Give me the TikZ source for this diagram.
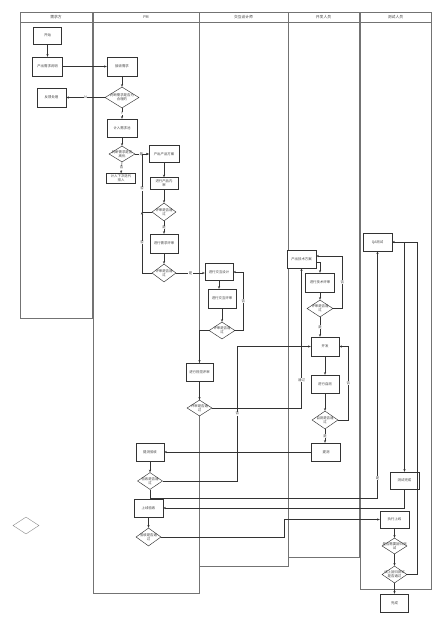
\documentclass[tikz,border=0pt]{standalone}
\usepackage{fontspec}
\setmainfont{Noto Sans CJK SC}
\usetikzlibrary{shapes.geometric,arrows.meta,calc}
\begin{document}
\begin{tikzpicture}[x=1pt,y=-1pt,
  txt/.style={font=\fontsize{3.4}{4}\selectfont, text=black!75},
  box/.style={draw=black!80, line width=0.45pt, fill=white, rectangle, inner sep=0pt,
    minimum width=29pt, minimum height=18pt, align=center, txt},
  dia/.style={draw=black!80, line width=0.45pt, fill=white, diamond, inner sep=0pt,
    minimum width=25pt, minimum height=17pt},
  dlab/.style={label={[txt,align=center]center:#1}},
  lane/.style={draw=black!55, line width=0.7pt},
  head/.style={font=\fontsize{3.8}{4.5}\selectfont, text=black!75},
  arr/.style={draw=black!80, line width=0.45pt, -{Stealth[length=2.6pt,width=2.1pt]}},
  lbl/.style={txt, fill=white, inner sep=0.4pt}]
\useasboundingbox (0,0) rectangle (440,620);
\fill[white] (0,0) rectangle (440,620);

% lanes
\draw[lane] (20,12) rectangle (92,318);   \draw[lane] (20,22) -- (92,22);
\draw[lane] (93,12) rectangle (199,593);  \draw[lane] (93,22) -- (199,22);
\draw[lane] (199,12) rectangle (288,566); \draw[lane] (199,22) -- (288,22);
\draw[lane] (288,12) rectangle (359,557); \draw[lane] (288,22) -- (359,22);
\draw[lane] (360,12) rectangle (431,589); \draw[lane] (360,22) -- (431,22);
\node[head] (h1) at (56,17) {需求方};
\node[head] (h2) at (146,17) {PM};
\node[head] (h3) at (243.5,17) {交互设计师};
\node[head] (h4) at (323.5,17) {开发人员};
\node[head] (h5) at (395.5,17) {测试人员};

% 需求方
\node[box,minimum width=28pt,minimum height=17pt] (start) at (47.5,35.5) {开始};
\node[box,minimum width=30pt,minimum height=19pt] (req) at (47.5,66.5) {产出需求说明};
\node[box,minimum width=29pt,minimum height=19pt] (fb) at (51.5,97.5) {反馈处理};
\node[dia,draw=black!45,line width=0.4pt,minimum width=26pt,minimum height=17pt] (lone) at (26,525.5) {};

% PM
\node[box,minimum width=30pt,minimum height=19pt] (recv) at (122,66.5) {接收需求};
\node[dia,minimum width=34pt,minimum height=21pt,dlab={判断需求是否为\\合理的}] (d1) at (122,97.5) {};
\node[box,minimum width=30pt,minimum height=18pt] (pool) at (122,128) {计入需求池};
\node[dia,minimum width=26pt,minimum height=16pt,dlab={判断需求是否\\高优}] (d2) at (122,154) {};
\node[box,minimum width=29pt,minimum height=10pt] (next) at (121,178.5) {计入下次迭代\\排入};
\node[box,minimum width=30pt,minimum height=17pt] (prod) at (164,154) {产出产品方案};
\node[box,minimum width=28pt,minimum height=12pt] (inner) at (164,183.5) {进行产品内\\审};
\node[dia,minimum width=24pt,minimum height=18pt,dlab={评审是否通\\过}] (d3) at (164,212) {};
\node[box,minimum width=28pt,minimum height=19pt] (prev) at (164,243.5) {进行需求评审};
\node[dia,minimum width=24pt,minimum height=18pt,dlab={评审是否通\\过}] (d4) at (164,273) {};
\node[box,minimum width=27pt,minimum height=18pt] (vis) at (199.5,372) {进行视觉评审};
\node[dia,minimum width=25pt,minimum height=16pt,dlab={评审是否通\\过}] (d6) at (199.5,408) {};
\node[box,minimum width=28pt,minimum height=18pt] (acc) at (150,452) {提测验收};
\node[dia,minimum width=25pt,minimum height=17pt,dlab={验收是否通\\过}] (d9) at (150,481) {};
\node[box,minimum width=29pt,minimum height=18pt] (onl) at (148.5,508) {上线验收};
\node[dia,minimum width=25pt,minimum height=18pt,dlab={验收是否通\\过}] (d10) at (148.5,537) {};

% 交互设计师
\node[box,minimum width=28pt,minimum height=17pt] (ixd) at (219,272) {进行交互设计};
\node[box,minimum width=28pt,minimum height=19pt] (ixr) at (222,298.5) {进行交互评审};
\node[dia,minimum width=26pt,minimum height=17pt,dlab={评审是否通\\过}] (d5) at (222,330.5) {};

% 开发人员
\node[box,minimum width=29pt,minimum height=18pt] (tech) at (301.5,259) {产出技术方案};
\node[box,minimum width=29pt,minimum height=19pt] (techr) at (320,282.5) {进行技术评审};
\node[dia,minimum width=26pt,minimum height=17pt,dlab={评审是否通\\过}] (d7) at (320,308.5) {};
\node[box,minimum width=28pt,minimum height=19pt] (dev) at (325,346.5) {开发};
\node[box,minimum width=28pt,minimum height=18pt] (self) at (325,384) {进行自测};
\node[dia,minimum width=26pt,minimum height=18pt,dlab={自测是否通\\过}] (d8) at (325,420) {};
\node[box,minimum width=29pt,minimum height=18pt] (sub) at (326,452) {提测};

% 测试人员
\node[box,minimum width=29pt,minimum height=18pt] (qa) at (377.5,242) {QA测试};
\node[box,minimum width=29pt,minimum height=17pt] (qad) at (404.5,480.5) {测试完成};
\node[box,minimum width=29pt,minimum height=17pt] (rel) at (394.5,519.5) {执行上线};
\node[dia,minimum width=25pt,minimum height=16pt,dlab={是否需要回归测\\试}] (d11) at (394.5,546) {};
\node[dia,minimum width=25pt,minimum height=17pt,dlab={线上回归测试\\是否通过}] (d12) at (394.5,574.5) {};
\node[box,minimum width=28pt,minimum height=18pt] (done) at (394.5,603) {完成};

% connectors
\draw[arr] (start) -- (req);
\draw[arr] (req.east) -- (recv.west);
\draw[arr] (recv) -- (d1);
\draw[arr] (d1.west) -- node[lbl]{N} (fb.east);
\draw[arr] (d1.south) -- node[lbl]{Y} (pool.north);
\draw[arr] (pool) -- (d2);
\draw[arr] (d2.south) -- node[lbl]{否} (next.north);
\draw[arr] (d2.east) -- node[lbl,pos=0.45]{是} (prod.west);
\draw[arr] (prod) -- (inner);
\draw[arr] (inner) -- (d3);
\draw[arr] (d3.south) -- node[lbl]{是} (prev.north);
\draw[arr] (prev) -- (d4);
\coordinate (jm) at (142,212);
\coordinate (jt) at (142,154);
\draw[arr] (d4.west) -| node[lbl,pos=0.75]{否} (jm);
\draw[arr] (d3.west) -- (jm) -- node[lbl,pos=0.4]{否} (jt) -- (prod.west);
\draw[arr] (d4.east) -- node[lbl]{是} (d4.east -| ixd.west);
\draw[arr] (ixd.south) -- (ixd.south |- ixr.north);
\draw[arr] (ixr) -- (d5);
\draw[arr] (d5.east) -- ++(8,0) |- node[lbl,pos=0.25]{否} (ixd.east);
\draw[arr] (d5.west) -| (vis.north);
\draw[arr] (vis) -- (d6);
\draw[arr] (d6.east) -| node[lbl,pos=0.6]{通过} (tech.south);
\draw[arr] ([yshift=-3pt]tech.east) -| (techr.north);
\draw[arr] (techr) -- (d7);
\draw[arr] (d7.east) -- ++(9,0) |- node[lbl,pos=0.25]{否} ([yshift=3pt]tech.east);
\draw[arr] (d7.south) -- node[lbl]{是} (d7.south |- dev.north);
\draw[arr] (dev) -- (self);
\draw[arr] (self) -- (d8);
\draw[arr] (d8.south) -- node[lbl]{是} (d8.south |- sub.north);
\draw[arr] (d8.east) -- ++(10,0) |- node[lbl,pos=0.25]{否} (dev.east);
\draw[arr] (sub.west) -- (sub.west -| acc.east);
\draw[arr] (acc) -- (d9);
\draw[arr] (d9.east) -- ++(74.5,0) |- node[lbl,pos=0.25]{否} (dev.west);
\draw[arr] (d9.south) -- ++(0,8) -| node[lbl,pos=0.54]{是} (qa.south);
\draw[arr] (qa.east) -| (qad.north);
\draw[arr] (qad.south) |- (onl.east);
\draw[arr] (onl) -- (d10);
\draw[arr] (d10.east) -- ++(122.5,0) |- (rel.west);
\draw[arr] (rel) -- (d11);
\draw[arr] (d11) -- (d12);
\draw[arr] (d12) -- (done);
\draw[arr] (d12.east) -- ++(9.5,0) |- (qa.east);
\end{tikzpicture}
\end{document}
